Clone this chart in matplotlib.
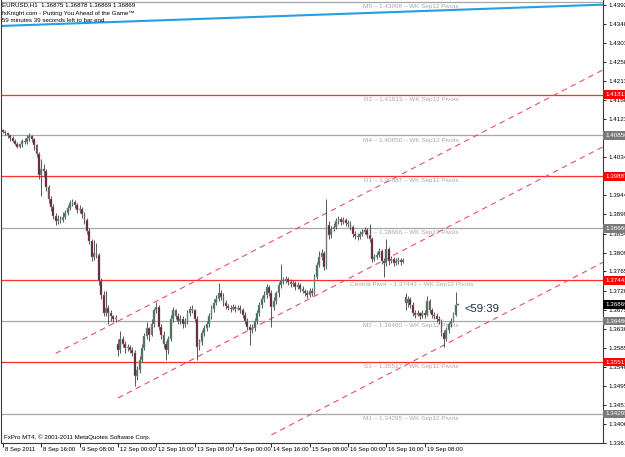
import numpy as np
import matplotlib.pyplot as plt
import matplotlib.transforms as mtransforms

plt.rcParams["font.family"] = ["Liberation Sans Narrow", "DejaVu Sans Condensed", "Liberation Sans", "DejaVu Sans"]

# EURUSD H1 bars, 8 Sep 2011 00:00 .. 19 Sep 2011 22:00 (one row per trading day)
opens = [
    1.4097, 1.4094, 1.4090, 1.4085, 1.4078, 1.4073, 1.4066, 1.4059, 1.4064, 1.4071, 1.4069, 1.4078,
    1.4083, 1.4076, 1.4062, 1.4041, 1.3991, 1.4005, 1.4001, 1.3963, 1.3935, 1.3916, 1.3895, 1.3884,
    1.3888, 1.3886, 1.3893, 1.3902, 1.3914, 1.3926, 1.3928, 1.3921, 1.3909, 1.3912, 1.3900, 1.3886,
    1.3860, 1.3837, 1.3799, 1.3809, 1.3804, 1.3743, 1.3710, 1.3668, 1.3680, 1.3666, 1.3659, 1.3652,
    1.3595, 1.3579, 1.3607, 1.3595, 1.3584, 1.3586, 1.3579, 1.3572, 1.3518, 1.3532, 1.3556, 1.3584,
    1.3612, 1.3631, 1.3616, 1.3640, 1.3673, 1.3682, 1.3635, 1.3616, 1.3595, 1.3579, 1.3607, 1.3654,
    1.3673, 1.3659, 1.3649, 1.3654, 1.3640, 1.3649, 1.3668, 1.3677, 1.3673, 1.3654, 1.3588, 1.3598,
    1.3619, 1.3631, 1.3640, 1.3659, 1.3677, 1.3691, 1.3701, 1.3715, 1.3705, 1.3691, 1.3684, 1.3680,
    1.3677, 1.3682, 1.3677, 1.3680, 1.3673, 1.3663, 1.3649, 1.3635, 1.3628, 1.3631, 1.3649, 1.3668,
    1.3687, 1.3701, 1.3710, 1.3729, 1.3715, 1.3682, 1.3696, 1.3713, 1.3734, 1.3745, 1.3743, 1.3748,
    1.3741, 1.3736, 1.3738, 1.3729, 1.3734, 1.3724, 1.3720, 1.3715, 1.3710, 1.3720, 1.3715, 1.3752,
    1.3780, 1.3799, 1.3809, 1.3776, 1.3874, 1.3851, 1.3865, 1.3870, 1.3884, 1.3888, 1.3881, 1.3886,
    1.3879, 1.3877, 1.3870, 1.3853, 1.3848, 1.3846, 1.3853, 1.3858, 1.3862, 1.3851, 1.3841, 1.3795,
    1.3799, 1.3804, 1.3813, 1.3790, 1.3785, 1.3818, 1.3790, 1.3795, 1.3785, 1.3790, 1.3792, 1.3787,
    1.3705, 1.3691, 1.3701, 1.3687, 1.3668, 1.3663, 1.3666, 1.3661, 1.3668, 1.3663, 1.3696, 1.3673,
    1.3663, 1.3659, 1.3654, 1.3649, 1.3621, 1.3607, 1.3626, 1.3640, 1.3649, 1.3663, 1.36875,
]
highs = [
    1.4101, 1.4097, 1.4092, 1.4087, 1.4083, 1.4076, 1.4069, 1.4066, 1.4076, 1.4080, 1.4085, 1.4090,
    1.4087, 1.4080, 1.4066, 1.4045, 1.4029, 1.4019, 1.4005, 1.3968, 1.3942, 1.3923, 1.3902, 1.3898,
    1.3895, 1.3905, 1.3909, 1.3921, 1.3933, 1.3935, 1.3933, 1.3926, 1.3921, 1.3916, 1.3905, 1.3891,
    1.3867, 1.3841, 1.3839, 1.3832, 1.3809, 1.3750, 1.3720, 1.3720, 1.3687, 1.3673, 1.3663, 1.3663,
    1.3607, 1.3624, 1.3614, 1.3600, 1.3593, 1.3591, 1.3586, 1.3579, 1.3542, 1.3565, 1.3593, 1.3619,
    1.3647, 1.3635, 1.3652, 1.3680, 1.3694, 1.3687, 1.3642, 1.3624, 1.3602, 1.3614, 1.3663, 1.3682,
    1.3677, 1.3666, 1.3663, 1.3659, 1.3656, 1.3675, 1.3684, 1.3687, 1.3677, 1.3659, 1.3607, 1.3626,
    1.3638, 1.3649, 1.3666, 1.3687, 1.3701, 1.3710, 1.3738, 1.3722, 1.3713, 1.3698, 1.3689, 1.3687,
    1.3689, 1.3687, 1.3687, 1.3687, 1.3680, 1.3670, 1.3656, 1.3642, 1.3640, 1.3656, 1.3675, 1.3694,
    1.3708, 1.3720, 1.3736, 1.3734, 1.3722, 1.3705, 1.3720, 1.3741, 1.3783, 1.3752, 1.3755, 1.3752,
    1.3748, 1.3745, 1.3743, 1.3741, 1.3738, 1.3731, 1.3724, 1.3722, 1.3727, 1.3727, 1.3759, 1.3787,
    1.3813, 1.3818, 1.3813, 1.3935, 1.3884, 1.3872, 1.3879, 1.3891, 1.3895, 1.3893, 1.3893, 1.3891,
    1.3886, 1.3884, 1.3874, 1.3860, 1.3855, 1.3860, 1.3865, 1.3870, 1.3867, 1.3877, 1.3846, 1.3806,
    1.3811, 1.3820, 1.3818, 1.3797, 1.3841, 1.3823, 1.3802, 1.3799, 1.3797, 1.3799, 1.3797, 1.3797,
    1.3713, 1.3708, 1.3705, 1.3694, 1.3675, 1.3673, 1.3670, 1.3675, 1.3673, 1.3708, 1.3701, 1.3680,
    1.3670, 1.3666, 1.3661, 1.3654, 1.3628, 1.3633, 1.3647, 1.3656, 1.3670, 1.3717, 1.36878,
]
lows = [
    1.4090, 1.4085, 1.4080, 1.4073, 1.4069, 1.4062, 1.4055, 1.4055, 1.4059, 1.4064, 1.4064, 1.4073,
    1.4069, 1.4052, 1.4034, 1.3982, 1.3942, 1.3987, 1.3954, 1.3926, 1.3907, 1.3888, 1.3874, 1.3877,
    1.3879, 1.3881, 1.3888, 1.3898, 1.3909, 1.3919, 1.3914, 1.3902, 1.3902, 1.3891, 1.3877, 1.3853,
    1.3830, 1.3790, 1.3792, 1.3797, 1.3734, 1.3701, 1.3659, 1.3659, 1.3642, 1.3649, 1.3645, 1.3647,
    1.3565, 1.3574, 1.3588, 1.3574, 1.3577, 1.3572, 1.3565, 1.3495, 1.3509, 1.3525, 1.3551, 1.3579,
    1.3607, 1.3600, 1.3612, 1.3635, 1.3666, 1.3626, 1.3607, 1.3584, 1.3556, 1.3570, 1.3600, 1.3647,
    1.3652, 1.3640, 1.3642, 1.3631, 1.3635, 1.3642, 1.3661, 1.3666, 1.3645, 1.3556, 1.3579, 1.3591,
    1.3612, 1.3624, 1.3633, 1.3654, 1.3670, 1.3687, 1.3696, 1.3698, 1.3684, 1.3677, 1.3673, 1.3670,
    1.3673, 1.3670, 1.3673, 1.3666, 1.3656, 1.3640, 1.3626, 1.3591, 1.3621, 1.3624, 1.3642, 1.3661,
    1.3680, 1.3694, 1.3703, 1.3708, 1.3635, 1.3675, 1.3689, 1.3705, 1.3727, 1.3736, 1.3738, 1.3734,
    1.3729, 1.3731, 1.3722, 1.3724, 1.3717, 1.3713, 1.3708, 1.3703, 1.3705, 1.3708, 1.3710, 1.3748,
    1.3776, 1.3792, 1.3769, 1.3771, 1.3841, 1.3844, 1.3860, 1.3865, 1.3877, 1.3874, 1.3877, 1.3872,
    1.3870, 1.3862, 1.3846, 1.3841, 1.3839, 1.3841, 1.3848, 1.3853, 1.3844, 1.3834, 1.3787, 1.3790,
    1.3795, 1.3799, 1.3783, 1.3752, 1.3778, 1.3780, 1.3785, 1.3778, 1.3780, 1.3783, 1.3780, 1.3785,
    1.3673, 1.3682, 1.3680, 1.3659, 1.3656, 1.3659, 1.3654, 1.3656, 1.3656, 1.3659, 1.3666, 1.3656,
    1.3652, 1.3647, 1.3642, 1.3614, 1.3588, 1.3600, 1.3621, 1.3635, 1.3645, 1.3659, 1.36869,
]
closes = [
    1.4094, 1.4090, 1.4085, 1.4078, 1.4073, 1.4066, 1.4059, 1.4064, 1.4071, 1.4069, 1.4078, 1.4083,
    1.4076, 1.4062, 1.4041, 1.3991, 1.4005, 1.4001, 1.3963, 1.3935, 1.3916, 1.3895, 1.3884, 1.3888,
    1.3886, 1.3893, 1.3902, 1.3914, 1.3926, 1.3928, 1.3921, 1.3909, 1.3912, 1.3900, 1.3886, 1.3860,
    1.3837, 1.3799, 1.3809, 1.3804, 1.3743, 1.3710, 1.3668, 1.3680, 1.3666, 1.3659, 1.3652, 1.3656,
    1.3579, 1.3607, 1.3595, 1.3584, 1.3586, 1.3579, 1.3572, 1.3518, 1.3532, 1.3556, 1.3584, 1.3612,
    1.3631, 1.3616, 1.3640, 1.3673, 1.3682, 1.3635, 1.3616, 1.3595, 1.3579, 1.3607, 1.3654, 1.3673,
    1.3659, 1.3649, 1.3654, 1.3640, 1.3649, 1.3668, 1.3677, 1.3673, 1.3654, 1.3588, 1.3598, 1.3619,
    1.3631, 1.3640, 1.3659, 1.3677, 1.3691, 1.3701, 1.3715, 1.3705, 1.3691, 1.3684, 1.3680, 1.3677,
    1.3682, 1.3677, 1.3680, 1.3673, 1.3663, 1.3649, 1.3635, 1.3628, 1.3631, 1.3649, 1.3668, 1.3687,
    1.3701, 1.3710, 1.3729, 1.3715, 1.3682, 1.3696, 1.3713, 1.3734, 1.3745, 1.3743, 1.3748, 1.3741,
    1.3736, 1.3738, 1.3729, 1.3734, 1.3724, 1.3720, 1.3715, 1.3710, 1.3720, 1.3715, 1.3752, 1.3780,
    1.3799, 1.3809, 1.3776, 1.3874, 1.3851, 1.3865, 1.3870, 1.3884, 1.3888, 1.3881, 1.3886, 1.3879,
    1.3877, 1.3870, 1.3853, 1.3848, 1.3846, 1.3853, 1.3858, 1.3862, 1.3851, 1.3841, 1.3795, 1.3799,
    1.3804, 1.3813, 1.3790, 1.3785, 1.3818, 1.3790, 1.3795, 1.3785, 1.3790, 1.3792, 1.3787, 1.3792,
    1.3691, 1.3701, 1.3687, 1.3668, 1.3663, 1.3666, 1.3661, 1.3668, 1.3663, 1.3696, 1.3673, 1.3663,
    1.3659, 1.3654, 1.3649, 1.3621, 1.3607, 1.3626, 1.3640, 1.3649, 1.3663, 1.3687, 1.36869,
]

# weekly pivots
pivot_names = ["M5", "R2", "M4", "R1", "M3", "Central Pivot", "M2", "S1", "M1"]
pivot_values = [1.43998, 1.41813, 1.40850, 1.39887, 1.38666, 1.37443, 1.36480, 1.35517, 1.34295]
pivot_is_main = [False, True, False, True, False, True, False, True, False]

# price scale labels (the ones not hidden behind pivot boxes)
price_ticks = [1.43920, 1.43480, 1.43030, 1.42580, 1.42130, 1.41680, 1.41230,
               1.40340, 1.39440, 1.38990, 1.38540, 1.38090, 1.37650, 1.37200,
               1.36750, 1.36300, 1.35850, 1.35400, 1.34950, 1.34510, 1.34060, 1.33610]

# time scale labels (bar index, text)
time_tick_bars = [0, 16, 32, 48, 64, 80, 96, 112, 128, 144, 160, 176]
time_tick_labels = ["8 Sep 2011", "8 Sep 16:00", "9 Sep 08:00", "12 Sep 00:00", "12 Sep 16:00",
                    "13 Sep 08:00", "14 Sep 00:00", "14 Sep 16:00", "15 Sep 08:00",
                    "16 Sep 00:00", "16 Sep 16:00", "19 Sep 08:00"]

# trend line (two anchors: bar, price)
trend_bars = [0, 190]
trend_prices = [1.4343, 1.4381]

# channel (three parallel rays)
channel_start_bar = [22, 48, 112]
channel_start_price = [1.3572, 1.3467, 1.3380]
channel_end_bar = [190, 190, 190]
channel_end_price = [1.4063, 1.3882, 1.3609]

current_price = 1.36869
bar_countdown = "<59:39"

# colours
RED = "#ff2a2a"
GRAY = "#a6a6a6"
BULL = "#2f6e4c"
BEAR = "#5e0c20"
WICK = "#3c3c3c"
EDGE = "#9a9a9a"
CHANNEL = "#ee4a72"
TREND = "#22a0e2"
SMALL = 4.5

W, H = 625, 457
fig = plt.figure(figsize=(W / 100, H / 100), dpi=100)
fig.patch.set_facecolor("white")
ax = fig.add_axes([1 / W, 14 / H, 602 / W, 443 / H])

o = np.array(opens)
h = np.array(highs)
l = np.array(lows)
c = np.array(closes)
x = np.arange(len(c))

x_right = 250.4
ax.set_xlim(-0.83, x_right)
ax.set_ylim(1.3361, 1.4404)

# pivot levels
lbl_off = mtransforms.ScaledTranslation(0, -1.5 / 72, fig.dpi_scale_trans)
for name, val, main in zip(pivot_names, pivot_values, pivot_is_main):
    ax.axhline(val, color=RED if main else GRAY, lw=0.9, zorder=1)
    ax.text(170.4, val, f"{name} \u2013 {val:.5f} \u2013 WK Sep12 Pivots",
            color="#a8a8a8", fontsize=4.6, ha="center", va="top",
            transform=ax.transData + lbl_off, zorder=2)

# trend line ray
slope = (trend_prices[1] - trend_prices[0]) / (trend_bars[1] - trend_bars[0])
ax.plot([-1, x_right], [trend_prices[0] + slope * (-1 - trend_bars[0]),
                        trend_prices[0] + slope * (x_right - trend_bars[0])],
        color=TREND, lw=1.5, zorder=2, solid_capstyle="butt")

# channel rays
for b0, p0, b1, p1 in zip(channel_start_bar, channel_start_price, channel_end_bar, channel_end_price):
    s = (p1 - p0) / (b1 - b0)
    ax.plot([b0, x_right], [p0, p0 + s * (x_right - b0)], color=CHANNEL,
            lw=0.8, linestyle=(0, (5, 4)), zorder=2)

# candles
ax.vlines(x, l, h, color=WICK, lw=0.6, zorder=3)
up = c >= o
ax.bar(x[up], np.maximum(c - o, 0.00002)[up], bottom=o[up], width=0.78,
       color=BULL, edgecolor=EDGE, linewidth=0.35, zorder=4)
ax.bar(x[~up], (o - c)[~up], bottom=c[~up], width=0.78,
       color=BEAR, edgecolor=EDGE, linewidth=0.35, zorder=4)

# bar countdown
cd_off = mtransforms.ScaledTranslation(0, -4 / 100, fig.dpi_scale_trans)
ax.text(len(c) + 1.8, c[-1], bar_countdown, fontsize=8.2, color="#1c2b45",
        ha="left", va="center", transform=ax.transData + cd_off, zorder=5)

# spines / price scale
ax.spines["top"].set_visible(False)
for side in ["left", "right", "bottom"]:
    ax.spines[side].set_color("#3a3a3a")
    ax.spines[side].set_linewidth(0.8)

ax.yaxis.tick_right()
ax.set_yticks(price_ticks)
ax.set_yticklabels([f"{v:.5f}" for v in price_ticks])
ax.tick_params(axis="y", direction="out", length=2.5, width=0.6, pad=1.5,
               labelsize=SMALL, colors="black")
ax.set_xticks(time_tick_bars)
ax.tick_params(axis="x", direction="out", length=3, width=0.6, labelbottom=False)

# price boxes on the scale
box_tr = mtransforms.blended_transform_factory(ax.transAxes, ax.transData)
for name, val, main in zip(pivot_names[1:], pivot_values[1:], pivot_is_main[1:]):
    ax.text(1.0 + 2 / 602, val, f"{val:.5f}", transform=box_tr, ha="left", va="center",
            fontsize=SMALL, color="white", clip_on=False, zorder=10,
            bbox=dict(boxstyle="square,pad=0.3", fc="#ff0000" if main else "#7a7a7a", ec="none"))
ax.text(1.0 + 2 / 602, current_price, f"{current_price:.5f}", transform=box_tr, ha="left",
        va="center", fontsize=SMALL, color="white", clip_on=False, zorder=11,
        bbox=dict(boxstyle="square,pad=0.3", fc="black", ec="none"))

# time labels
t_tr = mtransforms.blended_transform_factory(ax.transData, ax.transAxes)
t_off = mtransforms.ScaledTranslation(2 / 100, -7 / 100, fig.dpi_scale_trans)
for b, t in zip(time_tick_bars, time_tick_labels):
    ax.text(b, 0, t, transform=t_tr + t_off, ha="left", va="center",
            fontsize=4.3, color="black", clip_on=False)

# header and footer
fig.text(2 / W, 1 - 5 / H, "EURUSD,H1  1.36875 1.36878 1.36869 1.36869", fontsize=4.4,
         va="center", ha="left", color="black")
fig.text(2 / W, 1 - 13 / H, "fxKnight.com - Putting You Ahead of the Game\u2122", fontsize=4.4,
         va="center", ha="left", color="black")
fig.text(2 / W, 1 - 21 / H, "59 minutes 39 seconds left to bar end", fontsize=4.4,
         va="center", ha="left", color="black")
ax.text(3 / 602, 6 / 443, "FxPro MT4, \u00a9 2001-2011 MetaQuotes Software Corp.",
        transform=ax.transAxes, fontsize=4.4, va="center", ha="left", color="black")

fig.savefig("out.png", dpi=100, facecolor="white")
